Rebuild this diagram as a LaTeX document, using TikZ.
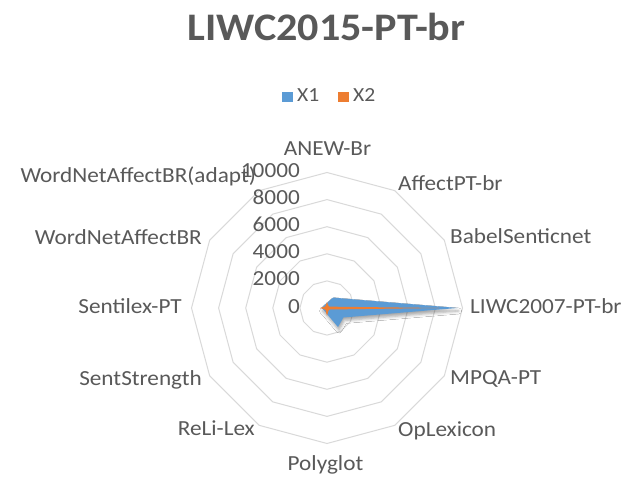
\documentclass[tikz,border=0pt]{standalone}
\usepackage{fontspec}
\setmainfont{Carlito}[FakeStretch=1.08]
\usetikzlibrary{shadows.blur}
\definecolor{txtgray}{HTML}{595959}
\definecolor{gridgray}{HTML}{D9D9D9}
\definecolor{serblue}{HTML}{5B9BD5}
\definecolor{serorange}{HTML}{ED7D31}
\begin{document}
\begin{tikzpicture}[x=1pt,y=1pt,
  lbl/.style={font=\fontsize{21.5}{25}\selectfont, text=txtgray, inner sep=0pt},
  ttl/.style={font=\fontsize{39}{44}\selectfont\bfseries, text=txtgray, inner sep=0pt},
  ring/.style={draw=gridgray, line width=1pt},
  seriesA/.style={fill=serblue, draw=none, blur shadow={shadow xshift=1pt, shadow yshift=-3pt, shadow blur radius=3pt, shadow opacity=35}},
  seriesB/.style={fill=serorange, draw=none},
  keybox/.style={inner sep=0pt, minimum width=11pt, minimum height=10pt}
]
\useasboundingbox[fill=white] (0,0) rectangle (630,477);

% title
\node[ttl, anchor=base] (title) at (326.5,436) {LIWC2015-PT-br};

% legend
\node[keybox, fill=serblue, anchor=south west] (k1) at (282,375) {};
\node[lbl, font=\fontsize{20}{24}\selectfont, anchor=base west] (t1) at (297,375) {X1};
\node[keybox, fill=serorange, anchor=south west] (k2) at (338,375) {};
\node[lbl, font=\fontsize{20}{24}\selectfont, anchor=base west] (t2) at (353,375) {X2};

\begin{scope}[shift={(327,169)}]
  % grid rings
  \foreach \r in {27.1,54.2,81.3,108.4,135.5}
    \draw[ring] (90:\r) \foreach \a in {120,150,...,420} { -- (\a:\r) } -- cycle;

  % series X1
  \path[seriesA] (90:5) -- (60:12) -- (30:19) -- (0:130.5) -- (-30:19) -- (-60:22)
     -- (-90:6) -- (-120:4) -- (-150:4) -- (180:5.4) -- (150:4) -- (120:4) -- cycle;
  % series X2
  \path[seriesB] (90:6) -- (60:2.7) -- (30:2.7) -- (0:112) -- (-30:3) -- (-60:3)
     -- (-90:8) -- (-120:2.7) -- (-150:2.7) -- (180:7) -- (150:2.7) -- (120:2.7) -- cycle;
\end{scope}

% axis value labels
\node[lbl, anchor=base east] (v10) at (300,299) {10000};
\node[lbl, anchor=base east] (v8) at (300,272) {8000};
\node[lbl, anchor=base east] (v6) at (300,245) {6000};
\node[lbl, anchor=base east] (v4) at (300,218) {4000};
\node[lbl, anchor=base east] (v2) at (300,191) {2000};
\node[lbl, anchor=base east] (v0) at (300,163) {0};

% category labels
\node[lbl, anchor=base] (c0) at (327.5,321) {ANEW-Br};
\node[lbl, anchor=base west] (c1) at (398,286) {AffectPT-br};
\node[lbl, anchor=base west] (c2) at (450,233) {BabelSenticnet};
\node[lbl, anchor=base west] (c3) at (470,163) {LIWC2007-PT-br};
\node[lbl, anchor=base west] (c4) at (450,92) {MPQA-PT};
\node[lbl, anchor=base west] (c5) at (398,40) {OpLexicon};
\node[lbl, anchor=base] (c6) at (325.5,6) {Polyglot};
\node[lbl, anchor=base east] (c7) at (255,41) {ReLi-Lex};
\node[lbl, anchor=base east] (c8) at (202,91) {SentStrength};
\node[lbl, anchor=base east] (c9) at (182,163) {Sentilex-PT};
\node[lbl, anchor=base east] (c10) at (202,232) {WordNetAffectBR};
\node[lbl, anchor=base east] (c11) at (256,294) {WordNetAffectBR(adapt)};
\end{tikzpicture}
\end{document}
